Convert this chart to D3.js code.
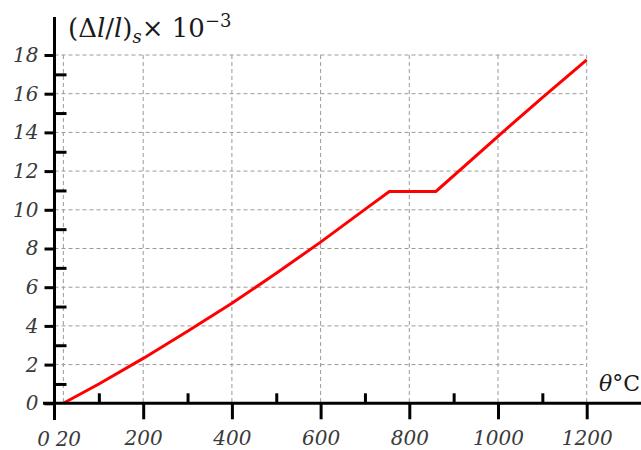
<!DOCTYPE html>
<html>
<head>
<meta charset="utf-8">
<script src="https://cdn.jsdelivr.net/npm/d3@7"></script>
<style>
  html, body { margin: 0; padding: 0; background: #fff; }
  svg { display: block; }
  .lbl { font-family: "DejaVu Serif", serif; font-style: italic; font-size: 20px; fill: #3a3a3a; }
</style>
</head>
<body>
<svg id="chart" width="641" height="450"></svg>
<script>
// Thermal strain of steel vs temperature
const temperature = [20, 100, 200, 300, 400, 500, 600, 700, 755, 860, 1000, 1100, 1200];
const strain      = [0, 1.0, 2.32, 3.72, 5.17, 6.72, 8.33, 10.02, 10.95, 10.95, 13.8, 15.8, 17.75];

const yMajorTicks = [0, 2, 4, 6, 8, 10, 12, 14, 16, 18];
const yMinorTicks = [1, 3, 5, 7, 9, 11, 13, 15, 17];
const xMajorTicks = [200, 400, 600, 800, 1000, 1200];
const xMinorTicks = [100, 300, 500, 700, 900, 1100];
const xOriginLabels = ["0", "20"];
const xGridTicks  = [20, 200, 400, 600, 800, 1000, 1200];
const yGridTicks  = [2, 4, 6, 8, 10, 12, 14, 16, 18];

const svg = d3.select("#chart");
const x = d3.scaleLinear().domain([0, 1200]).range([54.5, 586.7]);
const y = d3.scaleLinear().domain([0, 18]).range([403.3, 55]);

// dashed grid
const grid = svg.append("g").attr("stroke", "#9a9a9a").attr("stroke-width", 1)
  .attr("stroke-dasharray", "4,3").attr("fill", "none");
grid.selectAll("line.v").data(xGridTicks).join("line").attr("class", "v")
  .attr("x1", d => x(d)).attr("x2", d => x(d)).attr("y1", y(18)).attr("y2", y(0));
grid.selectAll("line.h").data(yGridTicks).join("line").attr("class", "h")
  .attr("x1", x(0)).attr("x2", x(1200)).attr("y1", d => y(d)).attr("y2", d => y(d));

// curve
const line = d3.line().x((d, i) => x(temperature[i])).y(d => y(d));
svg.append("path").datum(strain).attr("d", line)
  .attr("fill", "none").attr("stroke", "#ff0000").attr("stroke-width", 3)
  .attr("stroke-linejoin", "miter");

// axes
function styleAxis(g) {
  g.select(".domain").remove();
  g.selectAll(".tick line").attr("stroke", "#000").attr("stroke-width", 3);
  g.selectAll(".tick text").attr("class", "lbl").attr("fill", "#3a3a3a");
}

svg.append("g").attr("transform", `translate(${x(0)},0)`)
  .call(d3.axisLeft(y).tickValues(yMajorTicks).tickSize(10).tickPadding(6))
  .call(styleAxis)
  .selectAll(".tick text").attr("dy", "0.32em");

svg.append("g").attr("transform", `translate(${x(0)},0)`)
  .call(d3.axisRight(y).tickValues(yMinorTicks).tickSize(12).tickFormat(""))
  .call(styleAxis);

svg.append("g").attr("transform", `translate(0,${y(0)})`)
  .call(d3.axisBottom(x).tickValues(xMajorTicks).tickSize(16).tickPadding(12)
    .tickFormat(d3.format("d")))
  .call(styleAxis);

svg.append("g").attr("transform", `translate(0,${y(0)})`)
  .call(d3.axisTop(x).tickValues(xMinorTicks).tickSize(10).tickFormat(""))
  .call(styleAxis);

// axis lines
svg.append("line").attr("x1", x(0)).attr("x2", x(0)).attr("y1", 17).attr("y2", 420)
  .attr("stroke", "#000").attr("stroke-width", 3);
svg.append("line").attr("x1", 43).attr("x2", 641).attr("y1", y(0)).attr("y2", y(0))
  .attr("stroke", "#000").attr("stroke-width", 3);

// origin labels: 0 beside the axis, 20 at the starting temperature
svg.append("text").attr("class", "lbl").attr("x", x(0) - 11).attr("y", 445.5)
  .attr("text-anchor", "middle").text(xOriginLabels[0]);
svg.append("text").attr("class", "lbl").attr("x", x(20) + 5).attr("y", 445.5)
  .attr("text-anchor", "middle").text(xOriginLabels[1]);

// axis titles
const yt = svg.append("text").attr("x", 68).attr("y", 37)
  .attr("font-family", "DejaVu Serif, serif").attr("font-size", 26).attr("fill", "#1a1a1a");
yt.append("tspan").text("(Δ");
yt.append("tspan").attr("font-style", "italic").text("l");
yt.append("tspan").text("/");
yt.append("tspan").attr("font-style", "italic").text("l");
yt.append("tspan").text(")");
yt.append("tspan").attr("font-style", "italic").attr("font-size", 18).attr("dy", 6).text("s");
yt.append("tspan").attr("dy", -6).text("× 10");
yt.append("tspan").attr("font-size", 18).attr("dy", -10).text("−3");

const xt = svg.append("text").attr("x", 640).attr("y", 391).attr("text-anchor", "end")
  .attr("font-family", "DejaVu Serif, serif").attr("font-size", 22).attr("fill", "#1a1a1a");
xt.append("tspan").attr("font-style", "italic").text("θ");
xt.append("tspan").text("°C");
</script>
</body>
</html>
